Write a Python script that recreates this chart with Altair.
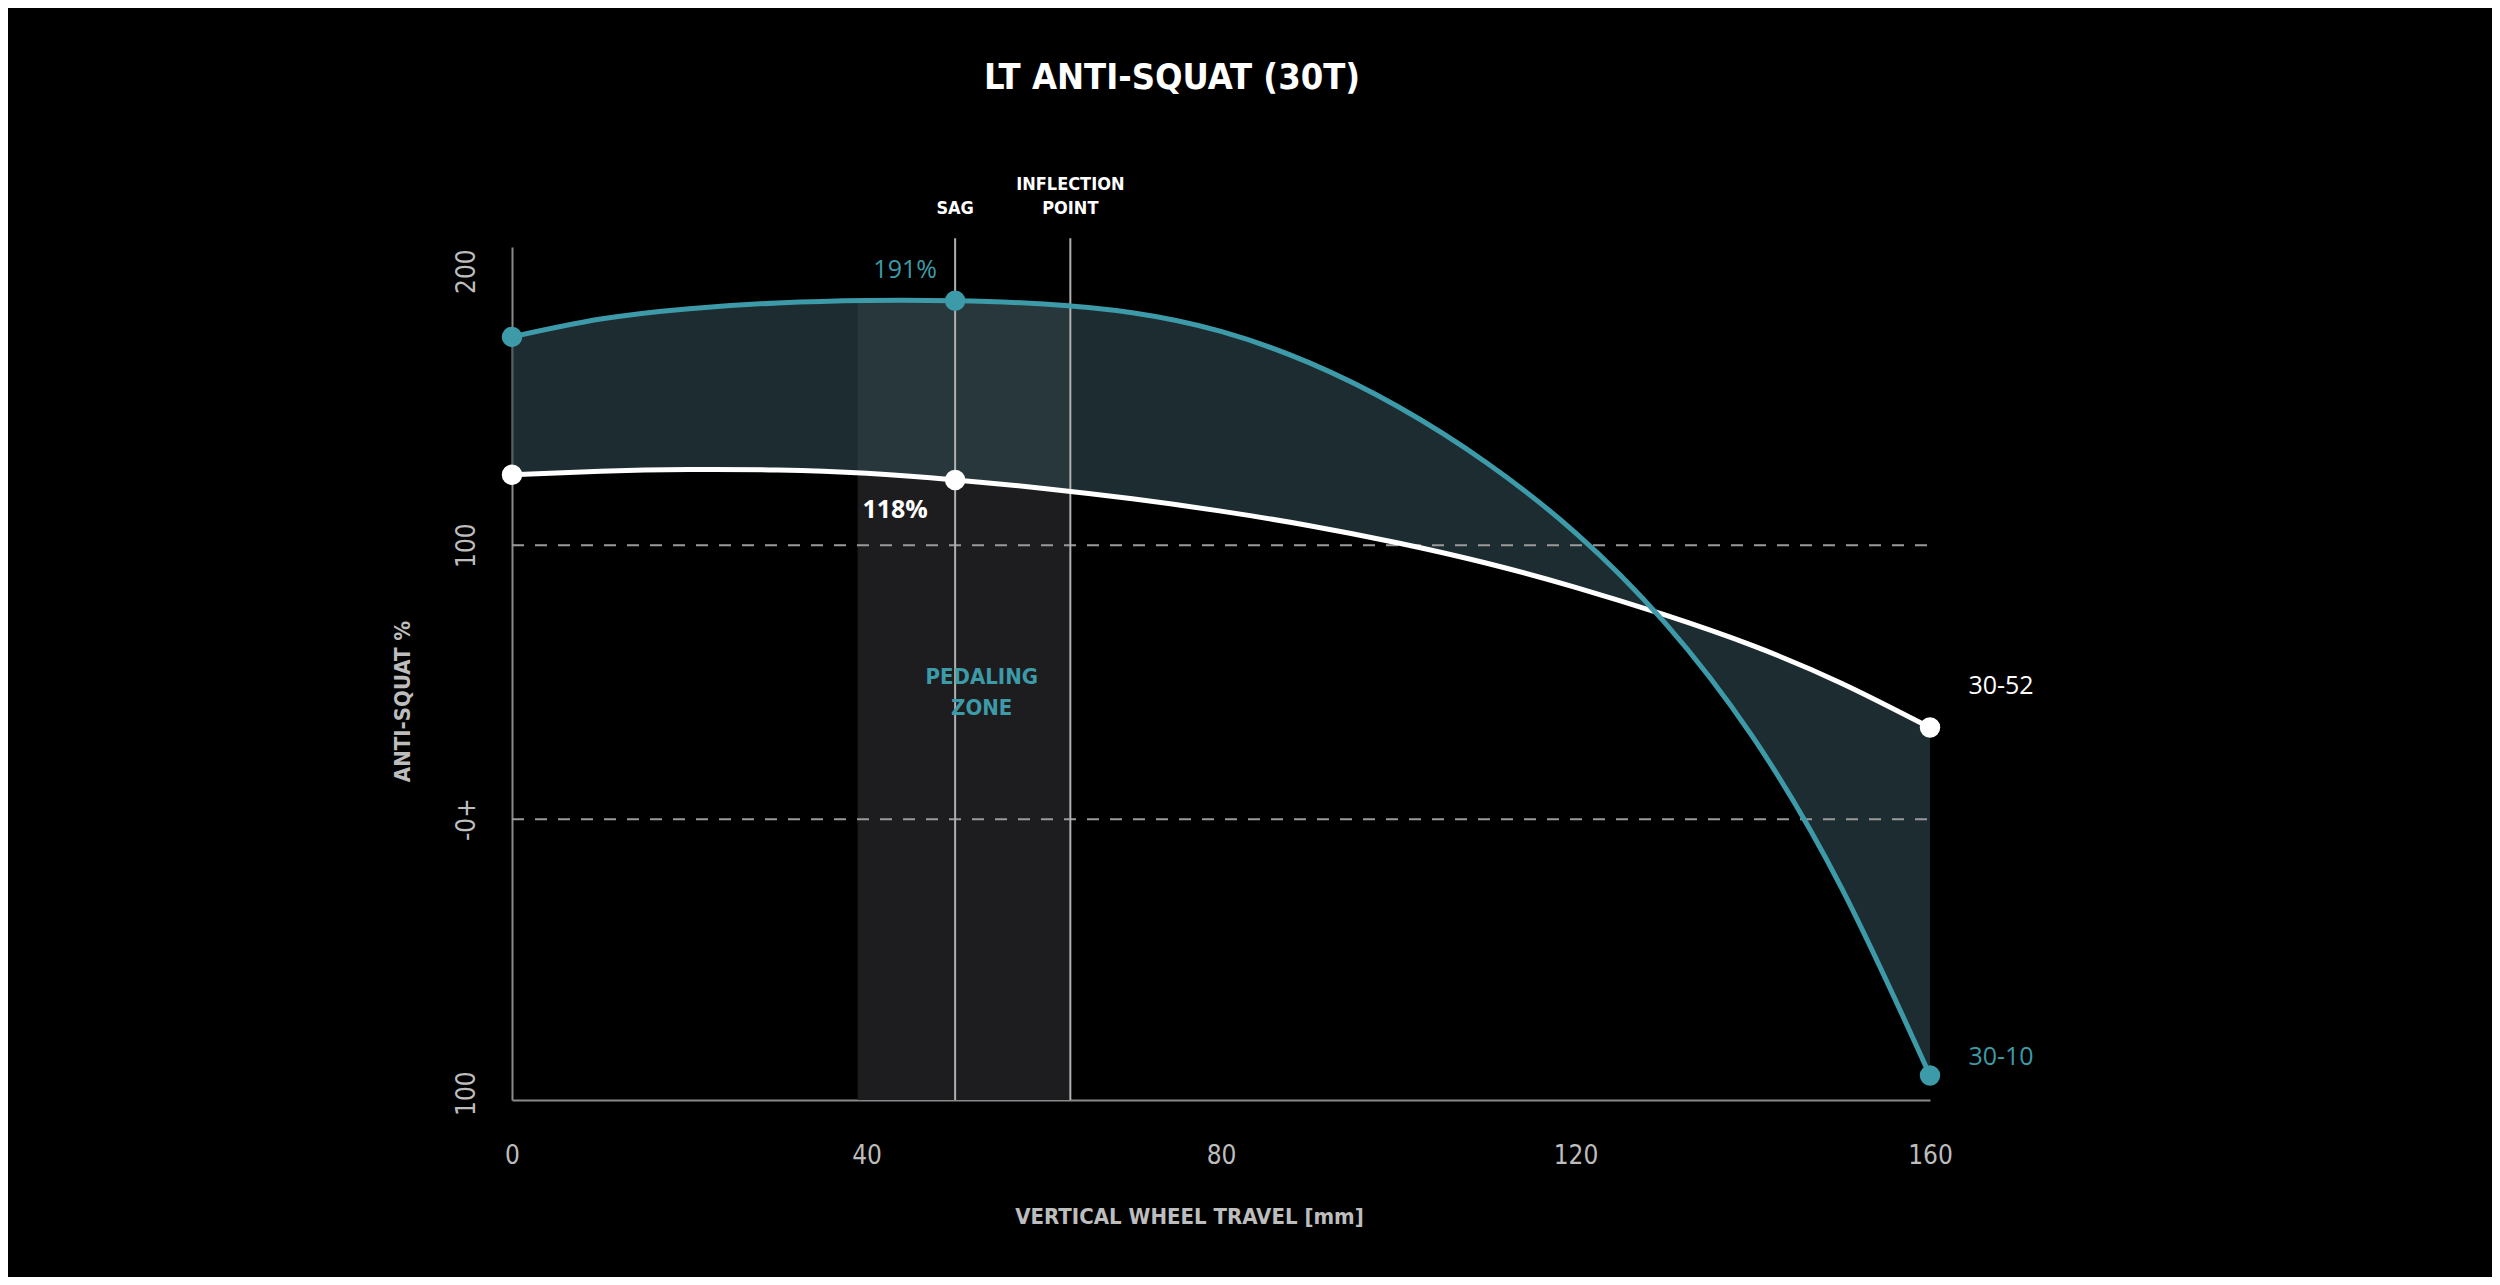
import altair as alt
import pandas as pd

# ---- data ----
travel_mm = [0, 10, 20, 30, 40, 50, 60, 70, 80, 90, 100, 110, 120, 130, 140, 150, 160]
as_30_10 = [176, 182.5, 186.3, 188.4, 189.3, 189.2, 188.0, 184.8, 178.0, 166.5, 150.5, 130.0, 104.5, 72.0, 30.0, -25.0, -93.6]
as_30_52 = [125.7, 127.0, 127.6, 127.4, 126.2, 123.8, 120.7, 116.9, 112.4, 107.1, 100.8, 93.4, 84.6, 74.6, 63.3, 49.6, 33.4]
marker_mm = [0, 50, 160]
ref_levels = [100, 0]
sag_mm = 50
inflection_mm = 63
zone_start, zone_end = 39, 63
y_lo, y_hi = -102.5, 208.8

TEAL = "#3d9aa8"
GREY = "#bdbdbd"
COND = "'DejaVu Sans Condensed', 'Liberation Sans Narrow', 'DejaVu Sans', sans-serif"
SANS = "'Open Sans', 'Noto Sans', sans-serif"
CURVE = "natural"

wide = pd.DataFrame({"x": travel_mm, "teal": as_30_10, "white": as_30_52})
markers = wide[wide["x"].isin(marker_mm)]

xs = alt.Scale(domain=[0, 160], nice=False, zero=False)
ys = alt.Scale(domain=[y_lo, y_hi], nice=False, zero=False)

X = lambda f: alt.X(f, type="quantitative", scale=xs)
Y = lambda f: alt.Y(f, type="quantitative", scale=ys)

base = alt.Chart(wide)

zone = alt.Chart(pd.DataFrame({"x": [zone_start], "x2": [zone_end], "y": [y_lo], "y2": [188.5]})).mark_rect(
    color="#1d1d1f"
).encode(
    x=alt.X("x:Q", scale=xs,
            axis=alt.Axis(values=[0, 40, 80, 120, 160], format="d", labelFlush=False,
                          labelColor=GREY, labelFontSize=26, labelFont=COND, labelPadding=42,
                          ticks=False, tickSize=0, grid=False, domainColor="#8a8a8a", domainWidth=2,
                          title="VERTICAL WHEEL TRAVEL [mm]", titleFont=COND, titleFontSize=22,
                          titleFontWeight="bold", titleColor=GREY, titleX=677, titleY=116,
                          titleAlign="center", titleBaseline="middle")),
    x2="x2:Q",
    y=alt.Y("y:Q", scale=ys,
            axis=alt.Axis(values=[-100, 0, 100, 200],
                          labelExpr="datum.value == 0 ? '-0+' : format(abs(datum.value), 'd')",
                          labelAngle=270, labelAlign="center", labelBaseline="middle",
                          labelColor=GREY, labelFontSize=26, labelFont=COND, labelPadding=46,
                          ticks=False, tickSize=0, grid=False, domainColor="#8a8a8a", domainWidth=2,
                          title="ANTI-SQUAT %", titleFont=COND, titleFontSize=22,
                          titleFontWeight="bold", titleColor=GREY, titleAngle=270,
                          titleX=-110, titleY=454, titleAlign="center", titleBaseline="middle")),
    y2="y2:Q",
)

area = base.mark_area(color="#2e474e", opacity=0.62, interpolate=CURVE).encode(
    x=X("x"), y=Y("teal"), y2="white"
)

dashes = alt.Chart(pd.DataFrame({"level": ref_levels, "x0": [0, 0], "x1": [160, 160]})).mark_rule(
    color="#9a9a9a", strokeWidth=2, strokeDash=[12, 11]
).encode(x=X("x0"), x2="x1", y=Y("level"))

vlines = alt.Chart(pd.DataFrame({"x": [sag_mm, inflection_mm], "y0": [y_lo, y_lo], "y1": [212, 212]})).mark_rule(
    color="#b0b0b0", strokeWidth=2
).encode(x=X("x"), y=Y("y0"), y2="y1")

line_teal = base.mark_line(color=TEAL, strokeWidth=5, interpolate=CURVE).encode(x=X("x"), y=Y("teal"))
line_white = base.mark_line(color="#ffffff", strokeWidth=5, interpolate=CURVE).encode(x=X("x"), y=Y("white"))

pts_teal = alt.Chart(markers).mark_circle(color=TEAL, size=420, opacity=1).encode(x=X("x"), y=Y("teal"))
pts_white = alt.Chart(markers).mark_circle(color="#ffffff", size=420, opacity=1).encode(x=X("x"), y=Y("white"))

sag_pt = markers[markers["x"] == sag_mm]
end_pt = markers[markers["x"] == 160]

lbl_191 = alt.Chart(sag_pt).mark_text(text="191%", color=TEAL, font=SANS, fontSize=25, dx=-50, dy=-31,
                                      align="center", baseline="middle").encode(x=X("x"), y=Y("teal"))
lbl_118 = alt.Chart(sag_pt).mark_text(text="118%", color="#ffffff", font=SANS, fontSize=25, fontWeight="bold",
                                      dx=-60, dy=30, align="center", baseline="middle").encode(x=X("x"), y=Y("white"))
lbl_3052 = alt.Chart(end_pt).mark_text(text="30-52", color="#ffffff", font=SANS, fontSize=25, dx=71, dy=-42,
                                       align="center", baseline="middle").encode(x=X("x"), y=Y("white"))
lbl_3010 = alt.Chart(end_pt).mark_text(text="30-10", color=TEAL, font=SANS, fontSize=25, dx=71, dy=-19,
                                       align="center", baseline="middle").encode(x=X("x"), y=Y("teal"))

zone_txt = alt.Chart(pd.DataFrame({"x": [53, 53], "y": [52, 40.4], "t": ["PEDALING", "ZONE"]})).mark_text(
    color=TEAL, font=COND, fontSize=22, fontWeight="bold", align="center", baseline="middle"
).encode(x=X("x"), y=Y("y"), text="t:N")

top_txt = alt.Chart(pd.DataFrame({"x": [sag_mm, inflection_mm, inflection_mm], "y": [222.5, 231.3, 222.5],
                                  "t": ["SAG", "INFLECTION", "POINT"]})).mark_text(
    color="#ffffff", font=COND, fontSize=18, fontWeight="bold", align="center", baseline="middle"
).encode(x=X("x"), y=Y("y"), text="t:N")

chart = alt.layer(
    zone, area, dashes, vlines, line_white, line_teal, pts_white, pts_teal,
    lbl_191, lbl_118, lbl_3052, lbl_3010, zone_txt, top_txt
).properties(
    width=1418, height=853,
    title=alt.TitleParams("LT ANTI-SQUAT (30T)", color="#ffffff", fontSize=36, fontWeight="bold",
                          font=COND, anchor="middle", dx=-49, offset=79),
    background="#000000",
    autosize=alt.AutoSizeParams(type="none"),
    padding={"left": 504, "top": 239, "right": 562, "bottom": 177},
).configure_view(stroke=None)

chart.save("out.html", embed_options={"renderer": "svg", "actions": False})
